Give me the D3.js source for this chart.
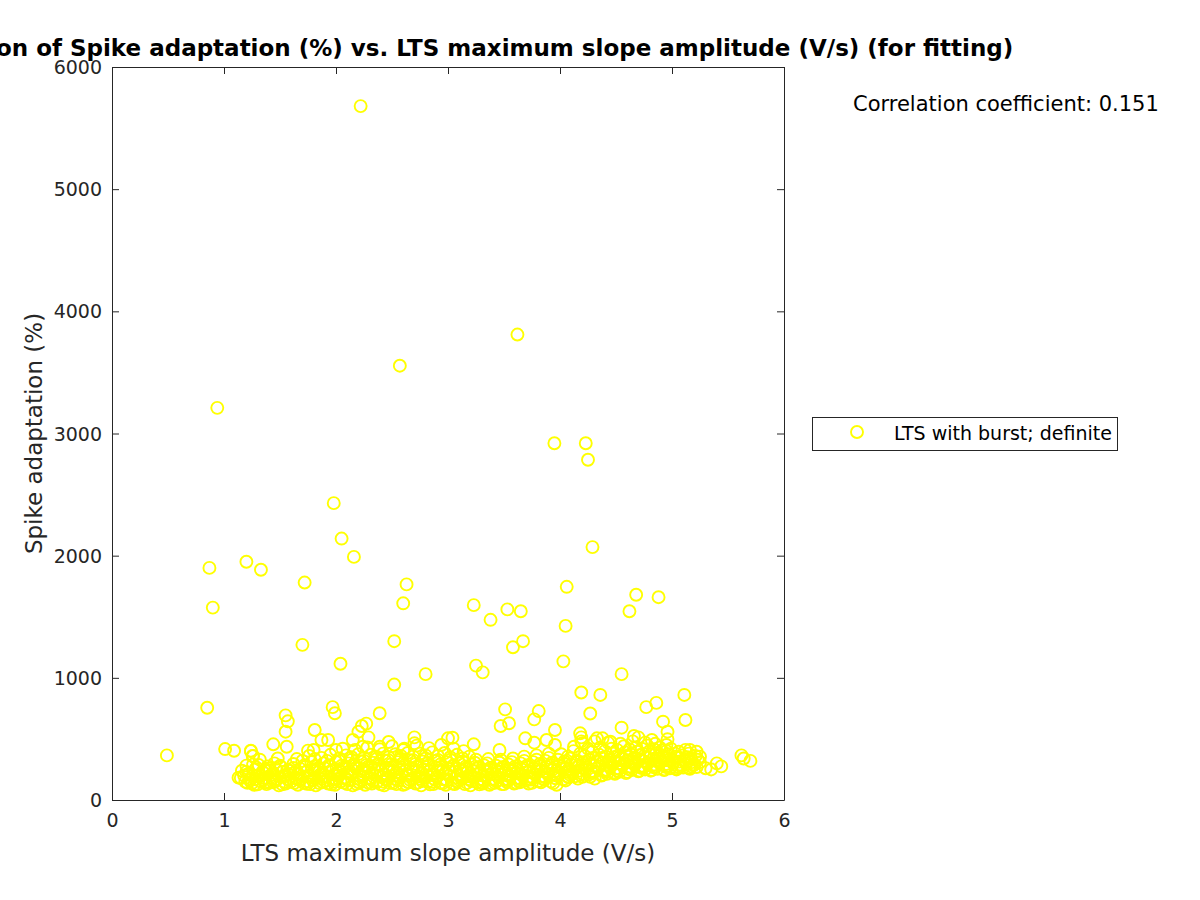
<!DOCTYPE html>
<html><head><meta charset="utf-8">
<script src="https://cdn.jsdelivr.net/npm/d3@7"></script>
<style>body{margin:0;background:#fff}svg{display:block}text{font-family:"DejaVu Sans",sans-serif}</style>
</head><body><svg id="c" width="1200" height="900"></svg>
<script>
const titleText = "Correlation of Spike adaptation (%) vs. LTS maximum slope amplitude (V/s) (for fitting)";
const xLabel = "LTS maximum slope amplitude (V/s)";
const yLabel = "Spike adaptation (%)";
const seriesName = "LTS with burst; definite";
const corrText = "Correlation coefficient: 0.151";
const xTicks = [0,1,2,3,4,5,6];
const yTicks = [0,1000,2000,3000,4000,5000,6000];

// high outliers
const outlierX = [2.22,3.62,2.57,0.94,3.95,4.23,4.25,1.98,2.05,4.29,2.16,0.87,1.2,1.33,1.72,2.63,4.06,4.68,4.88,0.9,2.6,3.23,3.53,3.65,4.62,3.38,4.05,1.7,2.52,3.67,3.58,2.04,3.25,3.31,4.03,4.55,2.8,2.52,4.19,4.36,5.11,4.86,4.77,0.85,1.97,1.99,3.51,3.81,3.77,5.12,4.27,1.55,1.57,2.39,0.49];
const outlierY = [5680,3810,3555,3210,2920,2920,2785,2430,2140,2070,1990,1900,1950,1885,1780,1765,1745,1680,1660,1575,1610,1595,1560,1545,1545,1475,1425,1270,1300,1300,1250,1115,1100,1045,1135,1030,1030,945,880,860,860,795,760,755,760,710,742,728,660,655,708,693,644,710,365];

// medium values above the band
const midX = [1.55,1.56,1.44,1.81,2.23,2.27,2.2,2.29,2.15,1.87,1.93,2.47,1.75,1.8,2.0,2.7,2.7,2.6,3.0,2.39,2.24,3.545,3.47,3.955,3.69,3.77,3.88,3.955,4.18,4.19,4.19,4.125,4.55,4.66,4.70,4.92,4.96,3.04,3.23,3.46,4.33,4.38,4.45,4.82,4.96,5.16,5.22,5.25,1.01,1.09,1.24,1.256,1.2,1.31,1.13,1.38,5.3,5.35,5.4,5.44,5.62,5.64,5.7,1.26,1.24];
const midY = [559,436,456,573,606,625,559,513,491,491,491,475,404,409,409,513,464,409,505,436,436,628,606,573,505,469,491,450,546,513,480,436,592,524,513,641,559,510,456,409,505,505,477,491,497,409,395,355,417,403,403,360,281,286,183,240,260,250,300,275,365,340,320,360,400];

// dense band near the bottom
const bandX = [
1.15,1.21,1.27,1.33,1.38,1.44,1.49,1.55,1.6,1.66,1.71,1.77,1.82,1.88,1.93,1.99,2.04,2.1,2.15,2.21,2.26,2.32,2.37,2.43,2.48,2.54,2.6,2.65,2.71,2.76,2.82,2.87,2.93,2.98,3.04,3.09,3.15,3.2,3.26,3.31,3.37,3.42,3.48,3.53,3.59,3.64,3.7,3.75,3.81,3.86,3.92,3.97,4.03,4.08,4.14,4.2,4.26,4.31,4.37,4.42,4.48,4.53,4.59,4.64,4.7,4.76,4.81,4.87,4.93,4.98,5.04,5.1,5.16,5.22,
1.18,1.24,1.3,1.36,1.42,1.47,1.53,1.58,1.64,1.69,1.75,1.8,1.86,1.91,1.97,2.02,2.08,2.13,2.19,2.24,2.3,2.35,2.41,2.46,2.52,2.57,2.63,2.68,2.74,2.79,2.85,2.9,2.96,3.01,3.07,3.12,3.18,3.23,3.29,3.34,3.4,3.45,3.51,3.56,3.62,3.67,3.73,3.78,3.84,3.89,3.95,4.0,4.06,4.11,4.17,4.23,4.28,4.34,4.4,4.45,4.51,4.56,4.62,4.67,4.73,4.78,4.84,4.9,4.95,5.01,5.07,5.13,5.19,5.25,
1.2,1.28,1.35,1.41,1.46,1.52,1.57,1.63,1.68,1.74,1.79,1.85,1.9,1.96,2.01,2.07,2.12,2.18,2.23,2.29,2.34,2.4,2.45,2.51,2.56,2.62,2.67,2.73,2.78,2.84,2.89,2.95,3.0,3.06,3.11,3.17,3.22,3.28,3.33,3.39,3.44,3.5,3.55,3.61,3.66,3.72,3.77,3.83,3.88,3.94,3.99,4.05,4.1,4.16,4.21,4.27,4.33,4.38,4.44,4.49,4.55,4.6,4.66,4.71,4.77,4.83,4.88,4.94,5.0,5.05,5.11,5.17,5.23,
1.26,1.39,1.45,1.5,1.62,1.72,1.78,1.83,1.89,1.94,2.0,2.05,2.11,2.16,2.22,2.27,2.33,2.38,2.44,2.49,2.55,2.6,2.66,2.71,2.77,2.82,2.88,2.93,2.99,3.05,3.1,3.16,3.21,3.27,3.32,3.38,3.43,3.49,3.54,3.6,3.65,3.71,3.76,3.82,3.87,3.93,3.98,4.04,4.09,4.15,4.22,4.29,4.35,4.41,4.47,4.52,4.58,4.63,4.69,4.74,4.8,4.86,4.91,4.97,5.03,5.09,5.15,5.21,
1.32,1.48,1.65,1.76,1.87,1.95,2.03,2.09,2.14,2.2,2.25,2.31,2.36,2.42,2.47,2.53,2.58,2.64,2.69,2.75,2.8,2.86,2.91,2.97,3.02,3.08,3.13,3.19,3.25,3.36,3.47,3.58,3.68,3.79,3.9,4.01,4.12,4.25,4.36,4.46,4.57,4.68,4.78,4.89,4.99,5.12,
2.06,2.17,2.28,2.39,2.5,2.61,2.72,2.83,2.94,3.05,3.14,4.2,4.31,4.43,4.54,4.65,4.76,4.85,4.95,
1.23,1.35,1.46,1.57,1.68,1.79,1.9,2.0,2.11,2.22,2.33,2.44,2.55,2.66,2.77,2.88,2.99,3.1,3.21,3.32,3.43,3.54,3.65,3.76,3.87,3.98,4.09,4.2,4.31,4.42,4.53,4.64,4.75,4.86,4.97,5.08,5.2,
1.25,1.3,1.41,1.52,1.63,1.74,1.85,1.96,2.07,2.18,2.29,2.4,2.51,2.62,2.73,2.84,2.95,3.06,3.17,3.28,3.39,3.5,3.61,3.72,3.83,3.94,4.05,4.16,4.27,4.38,4.49,4.6,4.71,4.82,4.93,5.04,5.15,
1.22,1.33,1.44,1.55,1.66,1.77,1.88,1.99,2.1,2.21,2.32,2.43,2.54,2.65,2.76,2.87,2.98,3.09,3.2,3.31,3.42,3.53,3.64,3.75,3.86,3.97,4.08,4.19,4.3,4.41,4.52,4.63,4.74,4.85,4.96,5.07,5.18,
1.29,1.4,1.51,1.62,1.73,1.84,1.95,2.06,2.17,2.28,2.39,2.5,2.61,2.72,2.83,2.94,3.05,3.16,3.27,3.38,3.49,3.6,3.71,3.82,3.93,4.04,4.15,4.26,4.37,4.48,4.59,4.7,4.81,4.92,5.03,5.14,
1.7,1.81,1.92,2.03,2.14,2.25,2.36,2.47,2.58,2.69,2.8,2.91,3.02,3.13,3.24,3.35,3.46,3.57,3.68,3.79,3.9,4.07,4.18,4.29,4.4,4.51,4.62,4.73,4.84,4.95,5.06,
1.19,1.28,1.37,1.43,1.54,1.65,1.76,1.87,1.98,2.09,2.2,2.31,2.42,2.53,2.64,2.75,2.86,2.97,3.08,3.19,3.3,3.41,3.52,3.63,3.74,3.85,3.96,4.07,4.18,4.29,4.4,4.51,4.62,4.73,4.84,4.95,5.06,5.17,
1.16,1.37,1.59,1.81,2.03,2.25,2.47,2.69,2.91,3.13,3.35,3.57,3.79,4.01,4.23,4.45,4.67,4.89,5.11
];
const bandY = [
180,140,125,150,130,145,120,135,150,125,140,130,120,145,135,125,150,130,120,140,125,135,150,120,140,130,125,145,135,120,150,130,140,125,135,150,130,120,145,135,125,140,130,150,135,145,160,140,155,165,150,125,170,185,195,190,210,175,200,215,225,230,220,245,235,250,240,255,245,260,250,265,255,270,
200,175,195,180,205,170,190,210,185,175,200,180,210,190,170,200,185,210,175,195,180,205,190,170,200,185,210,175,195,180,205,190,170,200,185,175,195,180,170,190,175,185,170,195,180,200,190,210,195,215,205,220,230,215,240,255,235,260,245,270,260,285,275,290,280,300,290,310,295,305,290,300,285,310,
230,250,225,240,260,230,245,225,255,235,250,230,260,240,225,255,235,260,240,230,255,245,265,235,255,240,260,230,250,240,265,235,255,230,245,225,240,220,235,215,230,220,240,225,250,235,260,245,270,255,280,265,290,275,310,295,320,305,330,315,340,325,345,330,350,335,360,340,330,345,320,340,330,
290,275,300,280,295,285,310,275,300,285,310,280,300,290,315,285,305,295,320,290,310,300,325,295,315,300,320,290,310,285,300,275,290,270,285,265,280,270,290,275,300,285,310,295,320,305,330,315,340,325,360,345,370,355,380,365,390,375,395,380,400,385,405,375,380,365,380,360,
330,340,335,360,345,370,340,365,350,375,345,370,355,380,350,375,360,385,355,380,365,390,360,385,350,370,340,355,330,335,330,340,355,365,380,375,400,420,430,420,440,430,445,430,420,410,
420,410,430,415,440,420,445,425,450,420,400,465,480,470,460,480,470,460,450,
160,165,155,170,160,165,155,170,160,165,155,170,160,165,155,170,160,165,155,160,155,165,170,180,185,195,205,215,230,245,255,265,270,275,280,275,290,
138,128,142,128,140,132,138,128,142,132,140,128,138,132,142,128,136,130,140,128,136,130,140,135,145,138,160,175,190,205,215,230,240,245,250,258,262,
215,200,222,205,218,195,222,208,225,200,220,210,228,198,222,212,225,205,215,200,212,200,215,225,235,240,255,265,280,290,300,310,320,320,325,315,310,
265,258,270,262,272,260,275,265,280,268,282,270,285,272,285,270,275,258,262,250,255,258,268,275,285,295,310,330,345,350,360,365,370,365,355,350,
320,335,320,318,330,320,335,325,338,325,340,328,330,315,305,300,305,310,320,330,345,355,380,395,400,410,415,420,415,400,395,
150,170,145,175,150,172,148,175,150,172,148,175,150,172,148,175,150,172,148,170,145,168,150,160,168,175,178,192,205,220,235,240,252,262,268,270,268,275,
240,248,238,248,238,250,240,250,242,238,242,235,248,260,285,305,318,330,330
];

const allX = [...bandX, ...midX, ...outlierX];
const allY = [...bandY, ...midY, ...outlierY];
const data = allX.map((x,i)=>({x, y: allY[i]}));

const svg = d3.select("#c");
const L=112, R=784, T=67, B=800;
const x = d3.scaleLinear().domain([0,6]).range([L,R]);
const y = d3.scaleLinear().domain([0,6000]).range([B,T]);
const axisColor = "#262626";

// points
const g = svg.append("g");
g.selectAll("circle").data(data).join("circle")
  .attr("cx", d=>x(d.x)).attr("cy", d=>y(d.y)).attr("r", 6)
  .attr("fill","none").attr("stroke","#ffff00").attr("stroke-width",1.9);

// axes
const tl = 7;
const ax = svg.append("g").attr("transform",`translate(0,${B})`)
  .call(d3.axisBottom(x).tickValues(xTicks).tickFormat(d3.format("d")).tickSizeInner(-tl).tickSizeOuter(0).tickPadding(14));
const axT = svg.append("g").attr("transform",`translate(0,${T})`)
  .call(d3.axisTop(x).tickValues(xTicks).tickFormat("").tickSizeInner(-tl).tickSizeOuter(0));
const ay = svg.append("g").attr("transform",`translate(${L},0)`)
  .call(d3.axisLeft(y).tickValues(yTicks).tickFormat(d3.format("d")).tickSizeInner(-tl).tickSizeOuter(0).tickPadding(10));
const ayR = svg.append("g").attr("transform",`translate(${R},0)`)
  .call(d3.axisRight(y).tickValues(yTicks).tickFormat("").tickSizeInner(-tl).tickSizeOuter(0));
[ax,axT,ay,ayR].forEach(a=>{
  a.select(".domain").attr("stroke",axisColor).attr("stroke-width",1);
  a.selectAll(".tick line").attr("stroke",axisColor);
  a.selectAll("text").attr("fill",axisColor).attr("font-size",19).attr("font-family","DejaVu Sans");
});
ay.selectAll(".tick text").attr("dy","0.35em");
ax.selectAll(".tick text").attr("dy","0.71em");

// labels
svg.append("text").attr("x",(L+R)/2).attr("y",861).attr("text-anchor","middle")
  .attr("font-size",23).attr("fill",axisColor).text(xLabel);
svg.append("text").attr("transform",`translate(42,${(T+B)/2}) rotate(-90)`).attr("text-anchor","middle")
  .attr("font-size",23).attr("fill",axisColor).text(yLabel);
svg.append("text").attr("x",(L+R)/2).attr("y",56).attr("text-anchor","middle")
  .attr("font-size",23).attr("font-weight","bold").attr("fill","#000").text(titleText);
svg.append("text").attr("x",853).attr("y",111).attr("font-size",21).attr("fill","#000").text(corrText);

// legend
const lg = svg.append("g");
lg.append("rect").attr("x",812.5).attr("y",417.5).attr("width",305).attr("height",33)
  .attr("fill","#fff").attr("stroke",axisColor).attr("stroke-width",1);
lg.append("circle").attr("cx",857).attr("cy",432).attr("r",6).attr("fill","none")
  .attr("stroke","#ffff00").attr("stroke-width",1.9);
lg.append("text").attr("x",894).attr("y",440).attr("font-size",19).attr("fill","#000").text(seriesName);
</script></body></html>
